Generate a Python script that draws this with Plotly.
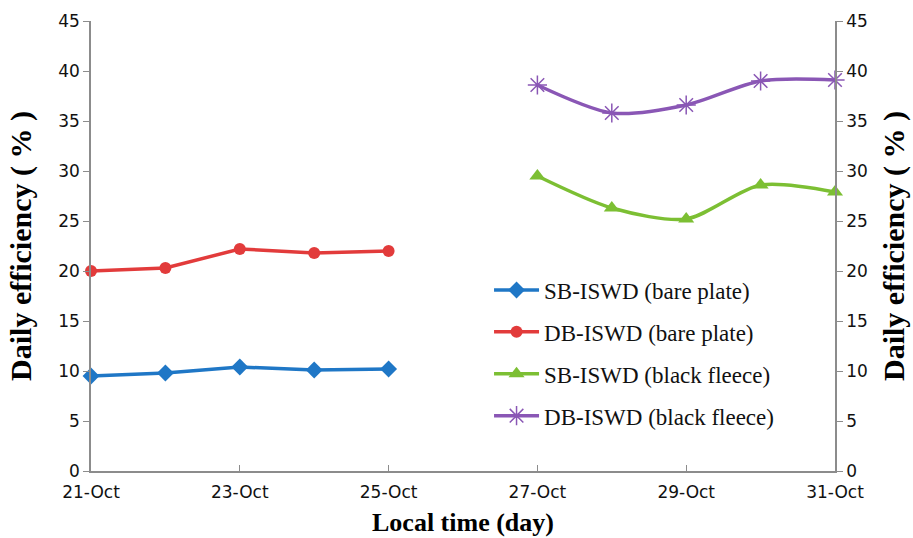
import plotly.graph_objects as go

dates_bare = ["2013-10-21", "2013-10-22", "2013-10-23", "2013-10-24", "2013-10-25"]
dates_fleece = ["2013-10-27", "2013-10-28", "2013-10-29", "2013-10-30", "2013-10-31"]

sb_bare = [9.5, 9.8, 10.4, 10.1, 10.2]
db_bare = [20.0, 20.3, 22.2, 21.8, 22.0]
sb_fleece = [29.5, 26.3, 25.2, 28.6, 27.9]
db_fleece = [38.6, 35.8, 36.6, 39.0, 39.1]

names = ["SB-ISWD (bare plate)", "DB-ISWD (bare plate)",
         "SB-ISWD (black fleece)", "DB-ISWD (black fleece)"]
y_ticks = list(range(0, 50, 5))

C_BLUE = "#1f77c6"
C_RED = "#e23b3b"
C_GREEN = "#7cbf33"
C_PURPLE = "#8a57b5"

fig = go.Figure()
fig.add_trace(go.Scatter(x=dates_bare, y=sb_bare, name=names[0], mode="lines+markers",
                         line=dict(color=C_BLUE, width=3.5),
                         marker=dict(symbol="diamond", size=13, color=C_BLUE),
                         legendgroup="a", cliponaxis=False))
fig.add_trace(go.Scatter(x=dates_bare, y=db_bare, name=names[1], mode="lines+markers",
                         line=dict(color=C_RED, width=3.5),
                         marker=dict(symbol="circle", size=12, color=C_RED),
                         legendgroup="b", cliponaxis=False))
fig.add_trace(go.Scatter(x=dates_fleece, y=sb_fleece, name=names[2], mode="lines+markers",
                         line=dict(color=C_GREEN, width=3.5, shape="spline", smoothing=0.8),
                         marker=dict(symbol="triangle-up", size=14, color=C_GREEN),
                         legendgroup="c", cliponaxis=False, yaxis="y2"))
fig.add_trace(go.Scatter(x=dates_fleece, y=db_fleece, name=names[3], mode="lines+markers",
                         line=dict(color=C_PURPLE, width=3.5, shape="spline", smoothing=0.8),
                         marker=dict(symbol="asterisk-open", size=16,
                                     line=dict(color=C_PURPLE, width=1.5)),
                         legendgroup="d", cliponaxis=False, yaxis="y2"))

tick_font = dict(family="DejaVu Sans", size=17, color="#111111")
xtick_font = dict(family="DejaVu Sans", size=17, color="#111111")
ytitle_font = dict(family="Liberation Serif", size=30, color="#000000")
xtitle_font = dict(family="Liberation Serif", size=26, color="#000000")
axis_col = "#8c8c8c"

fig.update_layout(
    width=913, height=538,
    margin=dict(l=91, r=78, t=21, b=67, autoexpand=False),
    paper_bgcolor="white", plot_bgcolor="white",
    showlegend=True,
    legend=dict(x=0.535, y=0.45, xanchor="left", yanchor="top",
                font=dict(family="Liberation Serif", size=23, color="#111111"),
                traceorder="grouped", tracegroupgap=9, itemwidth=45,
                bgcolor="rgba(0,0,0,0)"),
    xaxis=dict(type="date", range=["2013-10-21", "2013-10-31"], automargin=False,
               tick0="2013-10-21", dtick=2 * 86400000, tickformat="%d-%b",
               showgrid=False, showline=True, linecolor=axis_col, linewidth=1.5,
               ticks="inside", ticklen=6, tickcolor=axis_col, ticklabelstandoff=5,
               tickfont=xtick_font, zeroline=False,
               title=dict(text="<b>Local time (day)</b>", font=xtitle_font, standoff=12)),
    yaxis=dict(range=[0, 45], tickvals=y_ticks, showgrid=False, zeroline=False,
               automargin=False,
               showline=True, linecolor=axis_col, linewidth=1.5,
               ticks="outside", ticklen=6, tickcolor=axis_col, tickfont=tick_font,
               title=dict(text="<b>Daily efficiency ( % )</b>", font=ytitle_font, standoff=18)),
    yaxis2=dict(range=[0, 45], tickvals=y_ticks, showgrid=False, zeroline=False,
                automargin=False, overlaying="y", side="right",
                showline=True, linecolor=axis_col, linewidth=1.5,
                ticks="outside", ticklen=6, tickcolor=axis_col, tickfont=tick_font,
                title=dict(text="<b>Daily efficiency ( % )</b>", font=ytitle_font, standoff=16)),
)

fig.write_html("out.html")
